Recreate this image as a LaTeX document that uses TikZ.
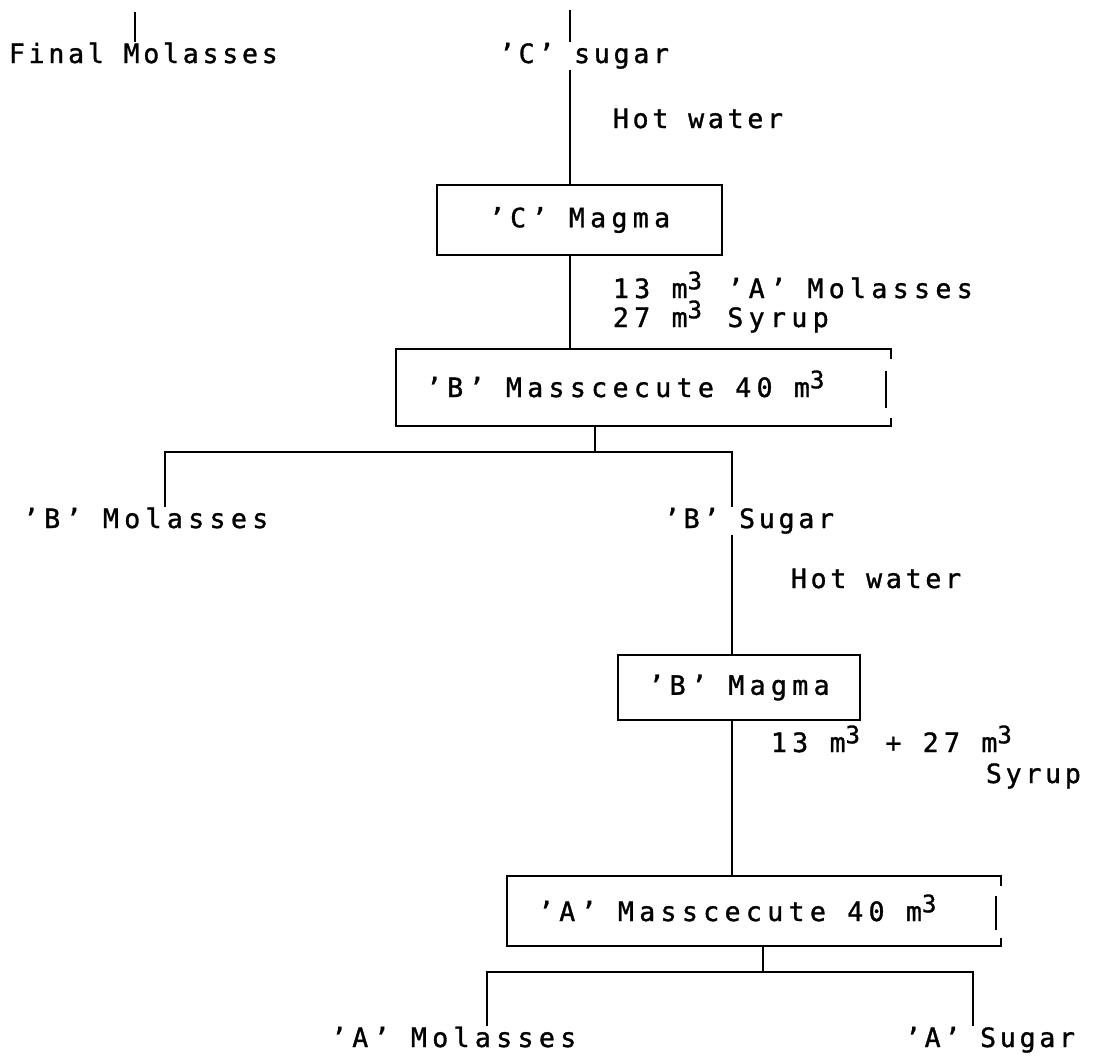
\documentclass[tikz,border=0pt]{standalone}
\usepackage{fontspec}
\usepackage{tikz}
\usetikzlibrary{positioning,calc}

\newfontfamily\plotfont[LetterSpace=14,FakeBold=1.2]{DejaVu Sans Mono}
\newfontfamily\plotwide[LetterSpace=20,FakeBold=1.2]{DejaVu Sans Mono}
\newcommand{\cube}{\raisebox{.6ex}{\fontsize{12}{12}\selectfont 3}\kern2pt}

\begin{document}
\begin{tikzpicture}[
    x=0.5pt,
    y=-0.5pt,
    line width=0.9pt,
    every node/.style={font=\plotfont\fontsize{13.3}{14.5}\selectfont}
]

\tikzstyle{stream}=[
    inner sep=0pt,
    anchor=base west
]
\tikzstyle{wide}=[
    font=\plotwide\fontsize{13.3}{14.5}\selectfont
]
\tikzstyle{vessel}=[
    draw,
    rectangle,
    inner sep=0pt,
    align=center,
    wide
]

\useasboundingbox (0,0) rectangle (1093,1061);

% top: last products
\node[stream] (fmol) at (8,63) {Final Molasses};
\node[stream] (csug) at (498,63) {’C’ sugar};
\coordinate (fmtop) at (135,12);
\coordinate (cstop) at (570,10);
\draw (fmtop) -- (fmtop |- fmol.north);
\draw (cstop) -- (cstop |- csug.north);

\node[stream] (hw1) at (612,128) {Hot water};

\node[vessel, minimum width=142.5pt, minimum height=35pt] (cmag) at (579.5,220) {’C’ Magma};
\draw (cstop |- csug.south) -- (cmag.north -| cstop);

\node[stream, wide, align=left, anchor=base west] (mix1) at (612,327)
    {13 m\cube{} ’A’ Molasses\\27 m\cube{} Syrup};

% B masscecute, right side drawn by hand
\node[minimum width=246.5pt, minimum height=37.5pt, inner sep=0pt] (bmas) at (643.5,387.5) {};
\node[stream, wide] (bmaslbl) at (425,397) {’B’ Masscecute 40 m\cube};
\draw ([yshift=-5pt]bmas.north east) -- (bmas.north east) -- (bmas.north west)
    -- (bmas.south west) -- (bmas.south east) -- ([yshift=4pt]bmas.south east);
\draw ([xshift=-2.5pt,yshift=-11pt]bmas.north east) -- ([xshift=-2.5pt,yshift=9pt]bmas.south east);
\draw (cmag.south -| cstop) -- (bmas.north -| cstop);

% B split
\node[stream, wide] (bmol) at (22,528) {’B’ Molasses};
\node[stream] (bsug) at (663,528) {’B’ Sugar};
\coordinate (bsplit) at (595,452);
\coordinate (bleft) at (165,452);
\coordinate (bright) at (732,452);
\draw (bmas.south -| bsplit) -- (bsplit);
\draw (bleft |- bmol.north) -- (bleft) -- (bright) -- (bright |- bsug.north);

\node[stream] (hw2) at (790,588) {Hot water};

\node[vessel, minimum width=121pt, minimum height=32.5pt] (bmag) at (739,687.5) {’B’ Magma};
\draw (bright |- bsug.south) -- (bmag.north -| bright);

\node[stream, wide] (mix2a) at (770,752) {13 m\cube{} + 27 m\cube};
\node[stream] (mix2b) at (985,783) {Syrup};

% A masscecute, right side drawn by hand
\node[minimum width=246pt, minimum height=34pt, inner sep=0pt] (amas) at (754,911) {};
\node[stream, wide] (amaslbl) at (537,921) {’A’ Masscecute 40 m\cube};
\draw ([yshift=-5pt]amas.north east) -- (amas.north east) -- (amas.north west)
    -- (amas.south west) -- (amas.south east) -- ([yshift=4pt]amas.south east);
\draw ([xshift=-2.5pt,yshift=-10pt]amas.north east) -- ([xshift=-2.5pt,yshift=8pt]amas.south east);
\draw (bmag.south -| bright) -- (amas.north -| bright);

% A split
\node[stream, wide] (amol) at (330,1047) {’A’ Molasses};
\node[stream] (asug) at (904,1047) {’A’ Sugar};
\coordinate (asplit) at (763,972);
\coordinate (aleft) at (487,972);
\coordinate (aright) at (973,972);
\draw (amas.south -| asplit) -- (asplit);
\draw (aleft |- amol.north) -- (aleft) -- (aright) -- (aright |- asug.north);

\end{tikzpicture}
\end{document}
